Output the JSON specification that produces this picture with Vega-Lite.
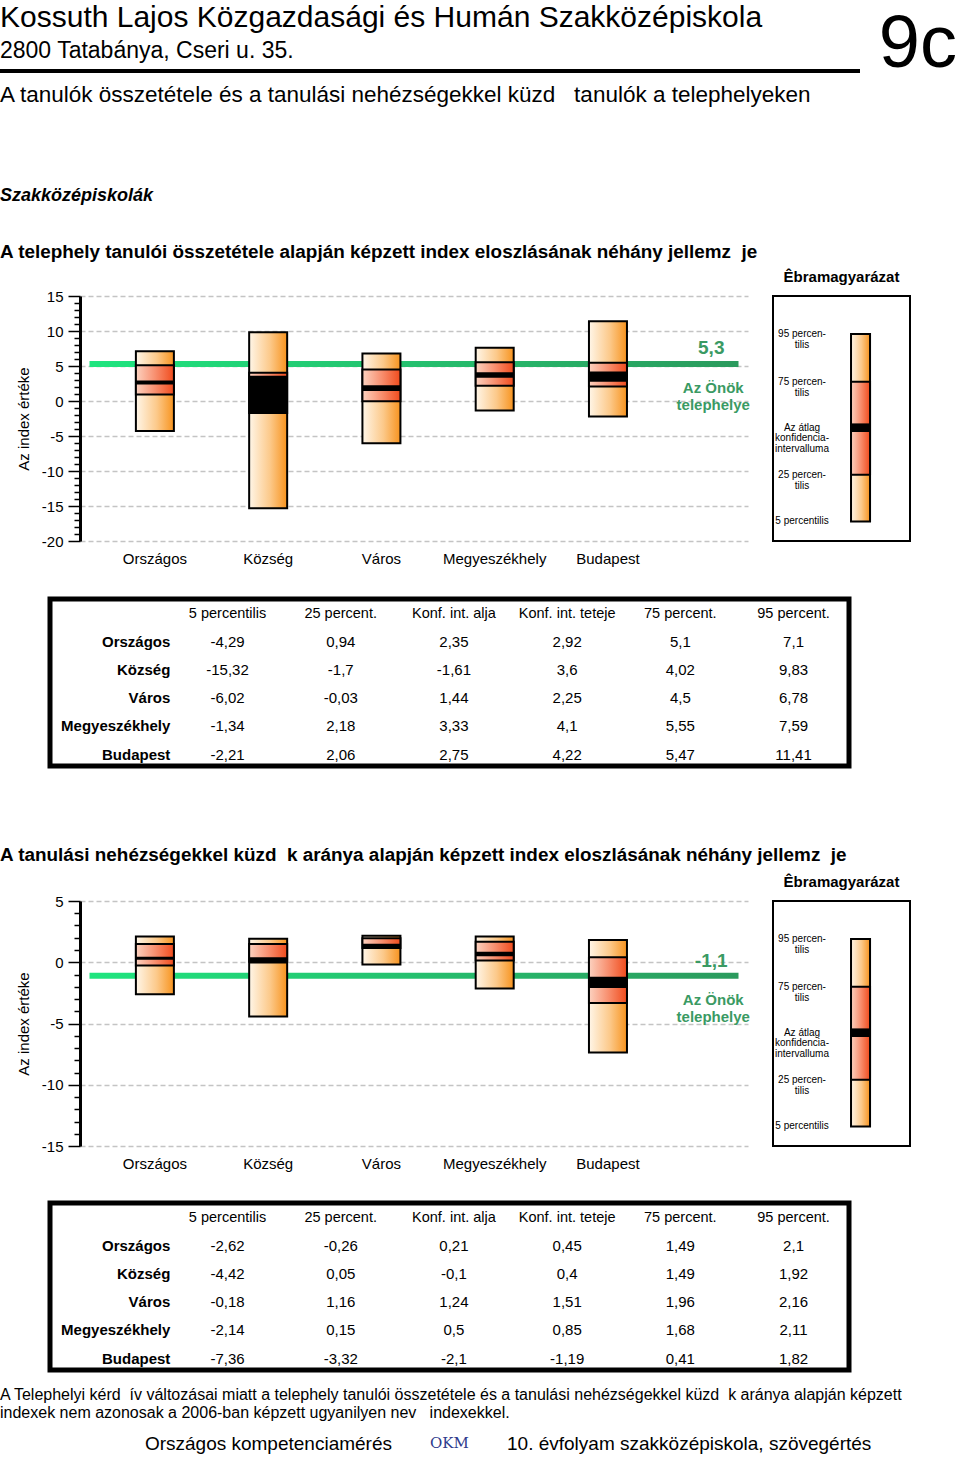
{
  "$schema": "https://vega.github.io/schema/vega-lite/v6.json",
  "background": "white",
  "padding": {"top": 3, "left": 0, "right": 0, "bottom": 0},
  "spacing": 0,
  "config": {
    "view": {"stroke": null},
    "font": "Liberation Sans",
    "title": {"font": "Liberation Sans", "subtitleFont": "Liberation Sans", "anchor": "start", "fontWeight": "normal", "color": "black", "subtitleColor": "black", "baseline": "top", "offset": 0},
    "axis": {"labelFont": "Liberation Sans", "titleFont": "Liberation Sans", "labelColor": "black", "titleColor": "black"},
    "text": {"font": "Liberation Sans", "color": "black"},
    "locale": {"number": {"decimal": ",", "thousands": " ", "grouping": [3], "currency": ["", ""], "minus": "-"}}
  },
  "datasets": {
    "telephely": [
      {"kat": "Országos", "p5": -4.29, "p25": 0.94, "ki_also": 2.35, "ki_felso": 2.92, "p75": 5.1, "p95": 7.1},
      {"kat": "Község", "p5": -15.32, "p25": -1.7, "ki_also": -1.61, "ki_felso": 3.6, "p75": 4.02, "p95": 9.83},
      {"kat": "Város", "p5": -6.02, "p25": -0.03, "ki_also": 1.44, "ki_felso": 2.25, "p75": 4.5, "p95": 6.78},
      {"kat": "Megyeszékhely", "p5": -1.34, "p25": 2.18, "ki_also": 3.33, "ki_felso": 4.1, "p75": 5.55, "p95": 7.59},
      {"kat": "Budapest", "p5": -2.21, "p25": 2.06, "ki_also": 2.75, "ki_felso": 4.22, "p75": 5.47, "p95": 11.41}
    ],
    "nehezseg": [
      {"kat": "Országos", "p5": -2.62, "p25": -0.26, "ki_also": 0.21, "ki_felso": 0.45, "p75": 1.49, "p95": 2.1},
      {"kat": "Község", "p5": -4.42, "p25": 0.05, "ki_also": -0.1, "ki_felso": 0.4, "p75": 1.49, "p95": 1.92},
      {"kat": "Város", "p5": -0.18, "p25": 1.16, "ki_also": 1.24, "ki_felso": 1.51, "p75": 1.96, "p95": 2.16},
      {"kat": "Megyeszékhely", "p5": -2.14, "p25": 0.15, "ki_also": 0.5, "ki_felso": 0.85, "p75": 1.68, "p95": 2.11},
      {"kat": "Budapest", "p5": -7.36, "p25": -3.32, "ki_also": -2.1, "ki_felso": -1.19, "p75": 0.41, "p95": 1.82}
    ],
    "sajat": [
      {"mutato": "telephely", "ertek": 5.3, "felirat": "Az Önök\ntelephelye"},
      {"mutato": "nehezseg", "ertek": -1.1, "felirat": "Az Önök\ntelephelye"}
    ],
    "jelmagyarazat": [
      {"p5": 8, "p25": 27, "ki_also": 44.5, "ki_felso": 48, "p75": 65, "p95": 84.5}
    ],
    "jelmagyarazat_feliratok": [
      {"felirat": "95 percen-\ntilis", "szint": 84.5, "tipus": "p"},
      {"felirat": "75 percen-\ntilis", "szint": 65, "tipus": "p"},
      {"felirat": "Az átlag\nkonfidencia-\nintervalluma", "szint": 46.25, "tipus": "ki"},
      {"felirat": "25 percen-\ntilis", "szint": 27, "tipus": "p"},
      {"felirat": "5 percentilis", "szint": 8, "tipus": "p"}
    ],
    "oszlopfejek": [
      {"oszlop": "p5", "felirat": "5 percentilis"},
      {"oszlop": "p25", "felirat": "25 percent."},
      {"oszlop": "ki_also", "felirat": "Konf. int. alja"},
      {"oszlop": "ki_felso", "felirat": "Konf. int. teteje"},
      {"oszlop": "p75", "felirat": "75 percent."},
      {"oszlop": "p95", "felirat": "95 percent."}
    ]
  },
  "vconcat": [
    {"hconcat": [
      {"width": 860, "height": 4, "data": {"values": []}, "mark": "text", "view": {"fill": "black", "stroke": null},
       "title": {"text": "Kossuth Lajos Közgazdasági és Humán Szakközépiskola", "subtitle": "2800 Tatabánya, Cseri u. 35.", "fontSize": 30, "subtitleFontSize": 23, "subtitlePadding": 7, "offset": 6, "anchor": "start"}},
      {"width": 72, "height": 14, "data": {"values": []}, "mark": "text",
       "title": {"text": "9c", "fontSize": 74, "anchor": "end", "offset": -14}}
    ], "spacing": 25, "bounds": "flush"},

    {"width": 860, "height": 80.5, "data": {"values": []}, "mark": "text",
     "title": {"text": "A tanulók összetétele és a tanulási nehézségekkel küzd\u00a0\u00a0 tanulók a telephelyeken", "fontSize": 22.5, "offset": 0}},

    {"width": 860, "height": 38, "data": {"values": []}, "mark": "text",
     "title": {"text": "Szakközépiskolák", "fontSize": 18, "fontWeight": "bold", "fontStyle": "italic", "offset": 0}},

    {"width": 860, "height": 6.1, "data": {"values": []}, "mark": "text",
     "title": {"text": "A telephely tanulói összetétele alapján képzett index eloszlásának néhány jellemz\u00a0 je", "fontSize": 18.9, "fontWeight": "bold", "offset": 0}},

    {"hconcat": [
      {"width": 55, "height": 300, "data": {"values": []}, "mark": "text"},
      {
        "width": 668, "height": 245,
        "resolve": {"axis": {"y": "independent"}},
        "layer": [
          {"data": {"name": "sajat"}, "transform": [{"filter": "datum.mutato === 'telephely'"}],
           "mark": {"type": "tick", "orient": "horizontal", "size": 649, "thickness": 6, "opacity": 1, "filled": true,
                    "fill": {"gradient": "linear", "x1": 0, "y1": 0, "x2": 1, "y2": 0, "stops": [{"offset": 0, "color": "#1fe57f"}, {"offset": 1, "color": "#2b9a5d"}]}},
           "encoding": {"y": {"field": "ertek", "type": "quantitative", "scale": {"domain": [-20, 15], "nice": false, "zero": false},
                              "axis": {"values": [-20, -15, -10, -5, 0, 5, 10, 15], "format": "d", "orient": "left", "title": "Az index értéke", "titleFontSize": 15, "titleFontWeight": "normal", "titlePadding": 10,
                                       "grid": true, "gridDash": [5, 3], "gridColor": "#c4c4c4", "gridWidth": 1.5, "domainColor": "black", "domainWidth": 3,
                                       "tickColor": "black", "tickSize": 12, "tickWidth": 1.5, "labelFontSize": 15, "labelPadding": 5, "labelFlush": false, "labelOverlap": false}}}},
          {"data": {"name": "telephely"},
           "mark": {"type": "rect", "stroke": "black", "strokeWidth": 2,
                    "fill": {"gradient": "linear", "x1": 0, "y1": 0, "x2": 1, "y2": 0, "stops": [{"offset": 0, "color": "#fff6e8"}, {"offset": 0.55, "color": "#fcc98a"}, {"offset": 1, "color": "#f7931e"}]}},
           "encoding": {
             "x": {"field": "kat", "type": "nominal", "scale": {"type": "band", "domain": ["Országos", "Község", "Város", "Megyeszékhely", "Budapest", "sajat"], "paddingInner": 0.6645, "paddingOuter": 0.281, "align": 0.878}, "axis": null},
             "y": {"field": "p5", "type": "quantitative", "scale": {"domain": [-20, 15], "nice": false, "zero": false}, "axis": null},
             "y2": {"field": "p95"}}},
          {"data": {"name": "telephely"},
           "mark": {"type": "rect", "stroke": "black", "strokeWidth": 2,
                    "fill": {"gradient": "linear", "x1": 0, "y1": 0, "x2": 1, "y2": 0, "stops": [{"offset": 0, "color": "#fcd2c0"}, {"offset": 0.5, "color": "#f89070"}, {"offset": 1, "color": "#f04b1c"}]}},
           "encoding": {
             "x": {"field": "kat", "type": "nominal", "scale": {"type": "band", "domain": ["Országos", "Község", "Város", "Megyeszékhely", "Budapest", "sajat"], "paddingInner": 0.6645, "paddingOuter": 0.281, "align": 0.878}, "axis": null},
             "y": {"field": "p25", "type": "quantitative", "scale": {"domain": [-20, 15], "nice": false, "zero": false}, "axis": null},
             "y2": {"field": "p75"}}},
          {"data": {"name": "telephely"},
           "mark": {"type": "rect", "fill": "black"},
           "encoding": {
             "x": {"field": "kat", "type": "nominal", "scale": {"type": "band", "domain": ["Országos", "Község", "Város", "Megyeszékhely", "Budapest", "sajat"], "paddingInner": 0.6645, "paddingOuter": 0.281, "align": 0.878}, "axis": null},
             "y": {"field": "ki_also", "type": "quantitative", "scale": {"domain": [-20, 15], "nice": false, "zero": false},
                   "axis": {"values": [-19, -18, -17, -16, -14, -13, -12, -11, -9, -8, -7, -6, -4, -3, -2, -1, 1, 2, 3, 4, 6, 7, 8, 9, 11, 12, 13, 14], "orient": "left", "labels": false, "domain": false, "grid": false, "title": null, "tickColor": "black", "tickSize": 6, "tickWidth": 1.5}},
             "y2": {"field": "ki_felso"}}},
          {"data": {"name": "telephely"},
           "mark": {"type": "text", "fontSize": 15, "dy": 18},
           "encoding": {
             "x": {"field": "kat", "type": "nominal", "scale": {"type": "band", "domain": ["Országos", "Község", "Város", "Megyeszékhely", "Budapest", "sajat"], "paddingInner": 0.6645, "paddingOuter": 0.281, "align": 0.878}, "axis": null},
             "y": {"datum": -20, "type": "quantitative", "scale": {"domain": [-20, 15], "nice": false, "zero": false}, "axis": null},
             "text": {"field": "kat"}}},
          {"data": {"name": "sajat"}, "transform": [{"filter": "datum.mutato === 'telephely'"}],
           "mark": {"type": "text", "fontSize": 19, "fontWeight": "bold", "color": "#3a9a63", "dx": -10, "dy": -16},
           "encoding": {
             "x": {"datum": "sajat", "type": "nominal", "scale": {"type": "band", "domain": ["Országos", "Község", "Város", "Megyeszékhely", "Budapest", "sajat"], "paddingInner": 0.6645, "paddingOuter": 0.281, "align": 0.878}, "axis": null},
             "y": {"field": "ertek", "type": "quantitative", "scale": {"domain": [-20, 15], "nice": false, "zero": false}, "axis": null},
             "text": {"field": "ertek", "type": "quantitative", "format": ".1f"}}},
          {"data": {"name": "sajat"}, "transform": [{"filter": "datum.mutato === 'telephely'"}],
           "mark": {"type": "text", "fontSize": 15, "fontWeight": "bold", "color": "#3a9a63", "dx": -8, "dy": 24.5, "lineBreak": "\n", "lineHeight": 17},
           "encoding": {
             "x": {"datum": "sajat", "type": "nominal", "scale": {"type": "band", "domain": ["Országos", "Község", "Város", "Megyeszékhely", "Budapest", "sajat"], "paddingInner": 0.6645, "paddingOuter": 0.281, "align": 0.878}, "axis": null},
             "y": {"field": "ertek", "type": "quantitative", "scale": {"domain": [-20, 15], "nice": false, "zero": false}, "axis": null},
             "text": {"field": "felirat"}}}
        ]
      },
      {
        "width": 137, "height": 245,
        "view": {"stroke": "black", "strokeWidth": 2},
        "title": {"text": "Êbramagyarázat", "fontSize": 15, "fontWeight": "bold", "anchor": "middle", "offset": 11},
        "layer": [
          {"data": {"name": "jelmagyarazat"},
           "mark": {"type": "rect", "stroke": "black", "strokeWidth": 2,
                    "fill": {"gradient": "linear", "x1": 0, "y1": 0, "x2": 1, "y2": 0, "stops": [{"offset": 0, "color": "#fff6e8"}, {"offset": 0.55, "color": "#fcc98a"}, {"offset": 1, "color": "#f7931e"}]}},
           "encoding": {
             "x": {"datum": "sav", "type": "nominal", "scale": {"type": "band", "domain": ["felirat", "sav"], "paddingInner": 0.675, "paddingOuter": 0.508, "align": 0.328}, "axis": null},
             "y": {"field": "p5", "type": "quantitative", "scale": {"domain": [0, 100], "nice": false, "zero": false}, "axis": null},
             "y2": {"field": "p95"}}},
          {"data": {"name": "jelmagyarazat"},
           "mark": {"type": "rect", "stroke": "black", "strokeWidth": 2,
                    "fill": {"gradient": "linear", "x1": 0, "y1": 0, "x2": 1, "y2": 0, "stops": [{"offset": 0, "color": "#fcd2c0"}, {"offset": 0.5, "color": "#f89070"}, {"offset": 1, "color": "#f04b1c"}]}},
           "encoding": {
             "x": {"datum": "sav", "type": "nominal", "scale": {"type": "band", "domain": ["felirat", "sav"], "paddingInner": 0.675, "paddingOuter": 0.508, "align": 0.328}, "axis": null},
             "y": {"field": "p25", "type": "quantitative", "scale": {"domain": [0, 100], "nice": false, "zero": false}, "axis": null},
             "y2": {"field": "p75"}}},
          {"data": {"name": "jelmagyarazat"},
           "mark": {"type": "rect", "fill": "black"},
           "encoding": {
             "x": {"datum": "sav", "type": "nominal", "scale": {"type": "band", "domain": ["felirat", "sav"], "paddingInner": 0.675, "paddingOuter": 0.508, "align": 0.328}, "axis": null},
             "y": {"field": "ki_also", "type": "quantitative", "scale": {"domain": [0, 100], "nice": false, "zero": false}, "axis": null},
             "y2": {"field": "ki_felso"}}},
          {"data": {"name": "jelmagyarazat_feliratok"}, "transform": [{"filter": "datum.tipus === 'p'"}],
           "mark": {"type": "text", "fontSize": 10, "baseline": "top", "dy": -5, "lineBreak": "\n", "lineHeight": 11},
           "encoding": {
             "x": {"datum": "felirat", "type": "nominal", "scale": {"type": "band", "domain": ["felirat", "sav"], "paddingInner": 0.675, "paddingOuter": 0.508, "align": 0.328}, "axis": null},
             "y": {"field": "szint", "type": "quantitative", "scale": {"domain": [0, 100], "nice": false, "zero": false}, "axis": null},
             "text": {"field": "felirat"}}},
          {"data": {"name": "jelmagyarazat_feliratok"}, "transform": [{"filter": "datum.tipus === 'ki'"}],
           "mark": {"type": "text", "fontSize": 10, "baseline": "middle", "lineBreak": "\n", "lineHeight": 10.5},
           "encoding": {
             "x": {"datum": "felirat", "type": "nominal", "scale": {"type": "band", "domain": ["felirat", "sav"], "paddingInner": 0.675, "paddingOuter": 0.508, "align": 0.328}, "axis": null},
             "y": {"field": "szint", "type": "quantitative", "scale": {"domain": [0, 100], "nice": false, "zero": false}, "axis": null},
             "text": {"field": "felirat"}}}
        ]
      }
    ], "spacing": 25, "bounds": "flush"},

    {"hconcat": [
      {"width": 24.5, "height": 246.5, "data": {"values": []}, "mark": "text"},
      {
        "width": 799, "height": 167,
        "view": {"stroke": "black", "strokeWidth": 5},
        "layer": [
          {"data": {"name": "oszlopfejek"},
           "mark": {"type": "text", "fontSize": 14.5},
           "encoding": {
             "x": {"field": "oszlop", "type": "nominal", "scale": {"type": "point", "domain": ["megnevezes", "p5", "p25", "ki_also", "ki_felso", "p75", "p95"], "padding": 0.529, "align": 0.537}, "axis": null},
             "y": {"datum": "fejlec", "type": "nominal", "scale": {"type": "point", "domain": ["fejlec", "Országos", "Község", "Város", "Megyeszékhely", "Budapest"], "padding": 0.461, "align": 0.558}, "axis": null},
             "text": {"field": "felirat"}}},
          {"data": {"name": "telephely"},
           "mark": {"type": "text", "fontSize": 15, "fontWeight": "bold", "align": "right", "dx": 56},
           "encoding": {
             "x": {"datum": "megnevezes", "type": "nominal", "scale": {"type": "point", "domain": ["megnevezes", "p5", "p25", "ki_also", "ki_felso", "p75", "p95"], "padding": 0.529, "align": 0.537}, "axis": null},
             "y": {"field": "kat", "type": "nominal", "scale": {"type": "point", "domain": ["fejlec", "Országos", "Község", "Város", "Megyeszékhely", "Budapest"], "padding": 0.461, "align": 0.558}, "axis": null},
             "text": {"field": "kat"}}},
          {"data": {"name": "telephely"},
           "transform": [{"fold": ["p5", "p25", "ki_also", "ki_felso", "p75", "p95"], "as": ["oszlop", "ertek"]}],
           "mark": {"type": "text", "fontSize": 15},
           "encoding": {
             "x": {"field": "oszlop", "type": "nominal", "scale": {"type": "point", "domain": ["megnevezes", "p5", "p25", "ki_also", "ki_felso", "p75", "p95"], "padding": 0.529, "align": 0.537}, "axis": null},
             "y": {"field": "kat", "type": "nominal", "scale": {"type": "point", "domain": ["fejlec", "Országos", "Község", "Város", "Megyeszékhely", "Budapest"], "padding": 0.461, "align": 0.558}, "axis": null},
             "text": {"field": "ertek", "type": "quantitative", "format": ".2~f"}}}
        ]
      }
    ], "spacing": 25, "bounds": "flush"},

    {"width": 860, "height": 8.6, "data": {"values": []}, "mark": "text",
     "title": {"text": "A tanulási nehézségekkel küzd\u00a0 k aránya alapján képzett index eloszlásának néhány jellemz\u00a0 je", "fontSize": 18.9, "fontWeight": "bold", "offset": 0}},

    {"hconcat": [
      {"width": 55, "height": 298.5, "data": {"values": []}, "mark": "text"},
      {
        "width": 668, "height": 245,
        "resolve": {"axis": {"y": "independent"}},
        "layer": [
          {"data": {"name": "sajat"}, "transform": [{"filter": "datum.mutato === 'nehezseg'"}],
           "mark": {"type": "tick", "orient": "horizontal", "size": 649, "thickness": 6, "opacity": 1, "filled": true,
                    "fill": {"gradient": "linear", "x1": 0, "y1": 0, "x2": 1, "y2": 0, "stops": [{"offset": 0, "color": "#1fe57f"}, {"offset": 1, "color": "#2b9a5d"}]}},
           "encoding": {"y": {"field": "ertek", "type": "quantitative", "scale": {"domain": [-15, 5], "nice": false, "zero": false},
                              "axis": {"values": [-15, -10, -5, 0, 5], "format": "d", "orient": "left", "title": "Az index értéke", "titleFontSize": 15, "titleFontWeight": "normal", "titlePadding": 10,
                                       "grid": true, "gridDash": [5, 3], "gridColor": "#c4c4c4", "gridWidth": 1.5, "domainColor": "black", "domainWidth": 3,
                                       "tickColor": "black", "tickSize": 12, "tickWidth": 1.5, "labelFontSize": 15, "labelPadding": 5, "labelFlush": false, "labelOverlap": false}}}},
          {"data": {"name": "nehezseg"},
           "mark": {"type": "rect", "stroke": "black", "strokeWidth": 2,
                    "fill": {"gradient": "linear", "x1": 0, "y1": 0, "x2": 1, "y2": 0, "stops": [{"offset": 0, "color": "#fff6e8"}, {"offset": 0.55, "color": "#fcc98a"}, {"offset": 1, "color": "#f7931e"}]}},
           "encoding": {
             "x": {"field": "kat", "type": "nominal", "scale": {"type": "band", "domain": ["Országos", "Község", "Város", "Megyeszékhely", "Budapest", "sajat"], "paddingInner": 0.6645, "paddingOuter": 0.281, "align": 0.878}, "axis": null},
             "y": {"field": "p5", "type": "quantitative", "scale": {"domain": [-15, 5], "nice": false, "zero": false}, "axis": null},
             "y2": {"field": "p95"}}},
          {"data": {"name": "nehezseg"},
           "mark": {"type": "rect", "stroke": "black", "strokeWidth": 2,
                    "fill": {"gradient": "linear", "x1": 0, "y1": 0, "x2": 1, "y2": 0, "stops": [{"offset": 0, "color": "#fcd2c0"}, {"offset": 0.5, "color": "#f89070"}, {"offset": 1, "color": "#f04b1c"}]}},
           "encoding": {
             "x": {"field": "kat", "type": "nominal", "scale": {"type": "band", "domain": ["Országos", "Község", "Város", "Megyeszékhely", "Budapest", "sajat"], "paddingInner": 0.6645, "paddingOuter": 0.281, "align": 0.878}, "axis": null},
             "y": {"field": "p25", "type": "quantitative", "scale": {"domain": [-15, 5], "nice": false, "zero": false}, "axis": null},
             "y2": {"field": "p75"}}},
          {"data": {"name": "nehezseg"},
           "mark": {"type": "rect", "fill": "black"},
           "encoding": {
             "x": {"field": "kat", "type": "nominal", "scale": {"type": "band", "domain": ["Országos", "Község", "Város", "Megyeszékhely", "Budapest", "sajat"], "paddingInner": 0.6645, "paddingOuter": 0.281, "align": 0.878}, "axis": null},
             "y": {"field": "ki_also", "type": "quantitative", "scale": {"domain": [-15, 5], "nice": false, "zero": false},
                   "axis": {"values": [-14, -13, -12, -11, -9, -8, -7, -6, -4, -3, -2, -1, 1, 2, 3, 4], "orient": "left", "labels": false, "domain": false, "grid": false, "title": null, "tickColor": "black", "tickSize": 6, "tickWidth": 1.5}},
             "y2": {"field": "ki_felso"}}},
          {"data": {"name": "nehezseg"},
           "mark": {"type": "text", "fontSize": 15, "dy": 18},
           "encoding": {
             "x": {"field": "kat", "type": "nominal", "scale": {"type": "band", "domain": ["Országos", "Község", "Város", "Megyeszékhely", "Budapest", "sajat"], "paddingInner": 0.6645, "paddingOuter": 0.281, "align": 0.878}, "axis": null},
             "y": {"datum": -15, "type": "quantitative", "scale": {"domain": [-15, 5], "nice": false, "zero": false}, "axis": null},
             "text": {"field": "kat"}}},
          {"data": {"name": "sajat"}, "transform": [{"filter": "datum.mutato === 'nehezseg'"}],
           "mark": {"type": "text", "fontSize": 19, "fontWeight": "bold", "color": "#3a9a63", "dx": -10, "dy": -15},
           "encoding": {
             "x": {"datum": "sajat", "type": "nominal", "scale": {"type": "band", "domain": ["Országos", "Község", "Város", "Megyeszékhely", "Budapest", "sajat"], "paddingInner": 0.6645, "paddingOuter": 0.281, "align": 0.878}, "axis": null},
             "y": {"field": "ertek", "type": "quantitative", "scale": {"domain": [-15, 5], "nice": false, "zero": false}, "axis": null},
             "text": {"field": "ertek", "type": "quantitative", "format": ".1f"}}},
          {"data": {"name": "sajat"}, "transform": [{"filter": "datum.mutato === 'nehezseg'"}],
           "mark": {"type": "text", "fontSize": 15, "fontWeight": "bold", "color": "#3a9a63", "dx": -8, "dy": 24.5, "lineBreak": "\n", "lineHeight": 17},
           "encoding": {
             "x": {"datum": "sajat", "type": "nominal", "scale": {"type": "band", "domain": ["Országos", "Község", "Város", "Megyeszékhely", "Budapest", "sajat"], "paddingInner": 0.6645, "paddingOuter": 0.281, "align": 0.878}, "axis": null},
             "y": {"field": "ertek", "type": "quantitative", "scale": {"domain": [-15, 5], "nice": false, "zero": false}, "axis": null},
             "text": {"field": "felirat"}}}
        ]
      },
      {
        "width": 137, "height": 245,
        "view": {"stroke": "black", "strokeWidth": 2},
        "title": {"text": "Êbramagyarázat", "fontSize": 15, "fontWeight": "bold", "anchor": "middle", "offset": 11},
        "layer": [
          {"data": {"name": "jelmagyarazat"},
           "mark": {"type": "rect", "stroke": "black", "strokeWidth": 2,
                    "fill": {"gradient": "linear", "x1": 0, "y1": 0, "x2": 1, "y2": 0, "stops": [{"offset": 0, "color": "#fff6e8"}, {"offset": 0.55, "color": "#fcc98a"}, {"offset": 1, "color": "#f7931e"}]}},
           "encoding": {
             "x": {"datum": "sav", "type": "nominal", "scale": {"type": "band", "domain": ["felirat", "sav"], "paddingInner": 0.675, "paddingOuter": 0.508, "align": 0.328}, "axis": null},
             "y": {"field": "p5", "type": "quantitative", "scale": {"domain": [0, 100], "nice": false, "zero": false}, "axis": null},
             "y2": {"field": "p95"}}},
          {"data": {"name": "jelmagyarazat"},
           "mark": {"type": "rect", "stroke": "black", "strokeWidth": 2,
                    "fill": {"gradient": "linear", "x1": 0, "y1": 0, "x2": 1, "y2": 0, "stops": [{"offset": 0, "color": "#fcd2c0"}, {"offset": 0.5, "color": "#f89070"}, {"offset": 1, "color": "#f04b1c"}]}},
           "encoding": {
             "x": {"datum": "sav", "type": "nominal", "scale": {"type": "band", "domain": ["felirat", "sav"], "paddingInner": 0.675, "paddingOuter": 0.508, "align": 0.328}, "axis": null},
             "y": {"field": "p25", "type": "quantitative", "scale": {"domain": [0, 100], "nice": false, "zero": false}, "axis": null},
             "y2": {"field": "p75"}}},
          {"data": {"name": "jelmagyarazat"},
           "mark": {"type": "rect", "fill": "black"},
           "encoding": {
             "x": {"datum": "sav", "type": "nominal", "scale": {"type": "band", "domain": ["felirat", "sav"], "paddingInner": 0.675, "paddingOuter": 0.508, "align": 0.328}, "axis": null},
             "y": {"field": "ki_also", "type": "quantitative", "scale": {"domain": [0, 100], "nice": false, "zero": false}, "axis": null},
             "y2": {"field": "ki_felso"}}},
          {"data": {"name": "jelmagyarazat_feliratok"}, "transform": [{"filter": "datum.tipus === 'p'"}],
           "mark": {"type": "text", "fontSize": 10, "baseline": "top", "dy": -5, "lineBreak": "\n", "lineHeight": 11},
           "encoding": {
             "x": {"datum": "felirat", "type": "nominal", "scale": {"type": "band", "domain": ["felirat", "sav"], "paddingInner": 0.675, "paddingOuter": 0.508, "align": 0.328}, "axis": null},
             "y": {"field": "szint", "type": "quantitative", "scale": {"domain": [0, 100], "nice": false, "zero": false}, "axis": null},
             "text": {"field": "felirat"}}},
          {"data": {"name": "jelmagyarazat_feliratok"}, "transform": [{"filter": "datum.tipus === 'ki'"}],
           "mark": {"type": "text", "fontSize": 10, "baseline": "middle", "lineBreak": "\n", "lineHeight": 10.5},
           "encoding": {
             "x": {"datum": "felirat", "type": "nominal", "scale": {"type": "band", "domain": ["felirat", "sav"], "paddingInner": 0.675, "paddingOuter": 0.508, "align": 0.328}, "axis": null},
             "y": {"field": "szint", "type": "quantitative", "scale": {"domain": [0, 100], "nice": false, "zero": false}, "axis": null},
             "text": {"field": "felirat"}}}
        ]
      }
    ], "spacing": 25, "bounds": "flush"},

    {"hconcat": [
      {"width": 24.5, "height": 184, "data": {"values": []}, "mark": "text"},
      {
        "width": 799, "height": 167,
        "view": {"stroke": "black", "strokeWidth": 5},
        "layer": [
          {"data": {"name": "oszlopfejek"},
           "mark": {"type": "text", "fontSize": 14.5},
           "encoding": {
             "x": {"field": "oszlop", "type": "nominal", "scale": {"type": "point", "domain": ["megnevezes", "p5", "p25", "ki_also", "ki_felso", "p75", "p95"], "padding": 0.529, "align": 0.537}, "axis": null},
             "y": {"datum": "fejlec", "type": "nominal", "scale": {"type": "point", "domain": ["fejlec", "Országos", "Község", "Város", "Megyeszékhely", "Budapest"], "padding": 0.461, "align": 0.558}, "axis": null},
             "text": {"field": "felirat"}}},
          {"data": {"name": "nehezseg"},
           "mark": {"type": "text", "fontSize": 15, "fontWeight": "bold", "align": "right", "dx": 56},
           "encoding": {
             "x": {"datum": "megnevezes", "type": "nominal", "scale": {"type": "point", "domain": ["megnevezes", "p5", "p25", "ki_also", "ki_felso", "p75", "p95"], "padding": 0.529, "align": 0.537}, "axis": null},
             "y": {"field": "kat", "type": "nominal", "scale": {"type": "point", "domain": ["fejlec", "Országos", "Község", "Város", "Megyeszékhely", "Budapest"], "padding": 0.461, "align": 0.558}, "axis": null},
             "text": {"field": "kat"}}},
          {"data": {"name": "nehezseg"},
           "transform": [{"fold": ["p5", "p25", "ki_also", "ki_felso", "p75", "p95"], "as": ["oszlop", "ertek"]}],
           "mark": {"type": "text", "fontSize": 15},
           "encoding": {
             "x": {"field": "oszlop", "type": "nominal", "scale": {"type": "point", "domain": ["megnevezes", "p5", "p25", "ki_also", "ki_felso", "p75", "p95"], "padding": 0.529, "align": 0.537}, "axis": null},
             "y": {"field": "kat", "type": "nominal", "scale": {"type": "point", "domain": ["fejlec", "Országos", "Község", "Város", "Megyeszékhely", "Budapest"], "padding": 0.461, "align": 0.558}, "axis": null},
             "text": {"field": "ertek", "type": "quantitative", "format": ".2~f"}}}
        ]
      }
    ], "spacing": 25, "bounds": "flush"},

    {"width": 905, "height": 13.5, "data": {"values": []}, "mark": "text",
     "title": {"text": ["A Telephelyi kérd\u00a0 ív változásai miatt a telephely tanulói összetétele és a tanulási nehézségekkel küzd\u00a0 k aránya alapján képzett", "indexek nem azonosak a 2006-ban képzett ugyanilyen nev\u00a0\u00a0 indexekkel."], "fontSize": 16, "lineHeight": 18, "offset": 0}},

    {"hconcat": [
      {"width": 392, "height": 4, "data": {"values": []}, "mark": "text",
       "title": {"text": "Országos kompetenciamérés", "fontSize": 19, "anchor": "end", "offset": 0}},
      {"width": 115, "height": 4, "data": {"values": []}, "mark": "text",
       "title": {"text": "OKM", "fontSize": 15, "font": "DejaVu Serif", "color": "#2e3a8c", "anchor": "middle", "offset": 3}},
      {"width": 453, "height": 4, "data": {"values": []}, "mark": "text",
       "title": {"text": "10. évfolyam szakközépiskola, szövegértés", "fontSize": 19, "anchor": "start", "offset": 0}}
    ], "spacing": 0, "bounds": "flush"}
  ]
}
